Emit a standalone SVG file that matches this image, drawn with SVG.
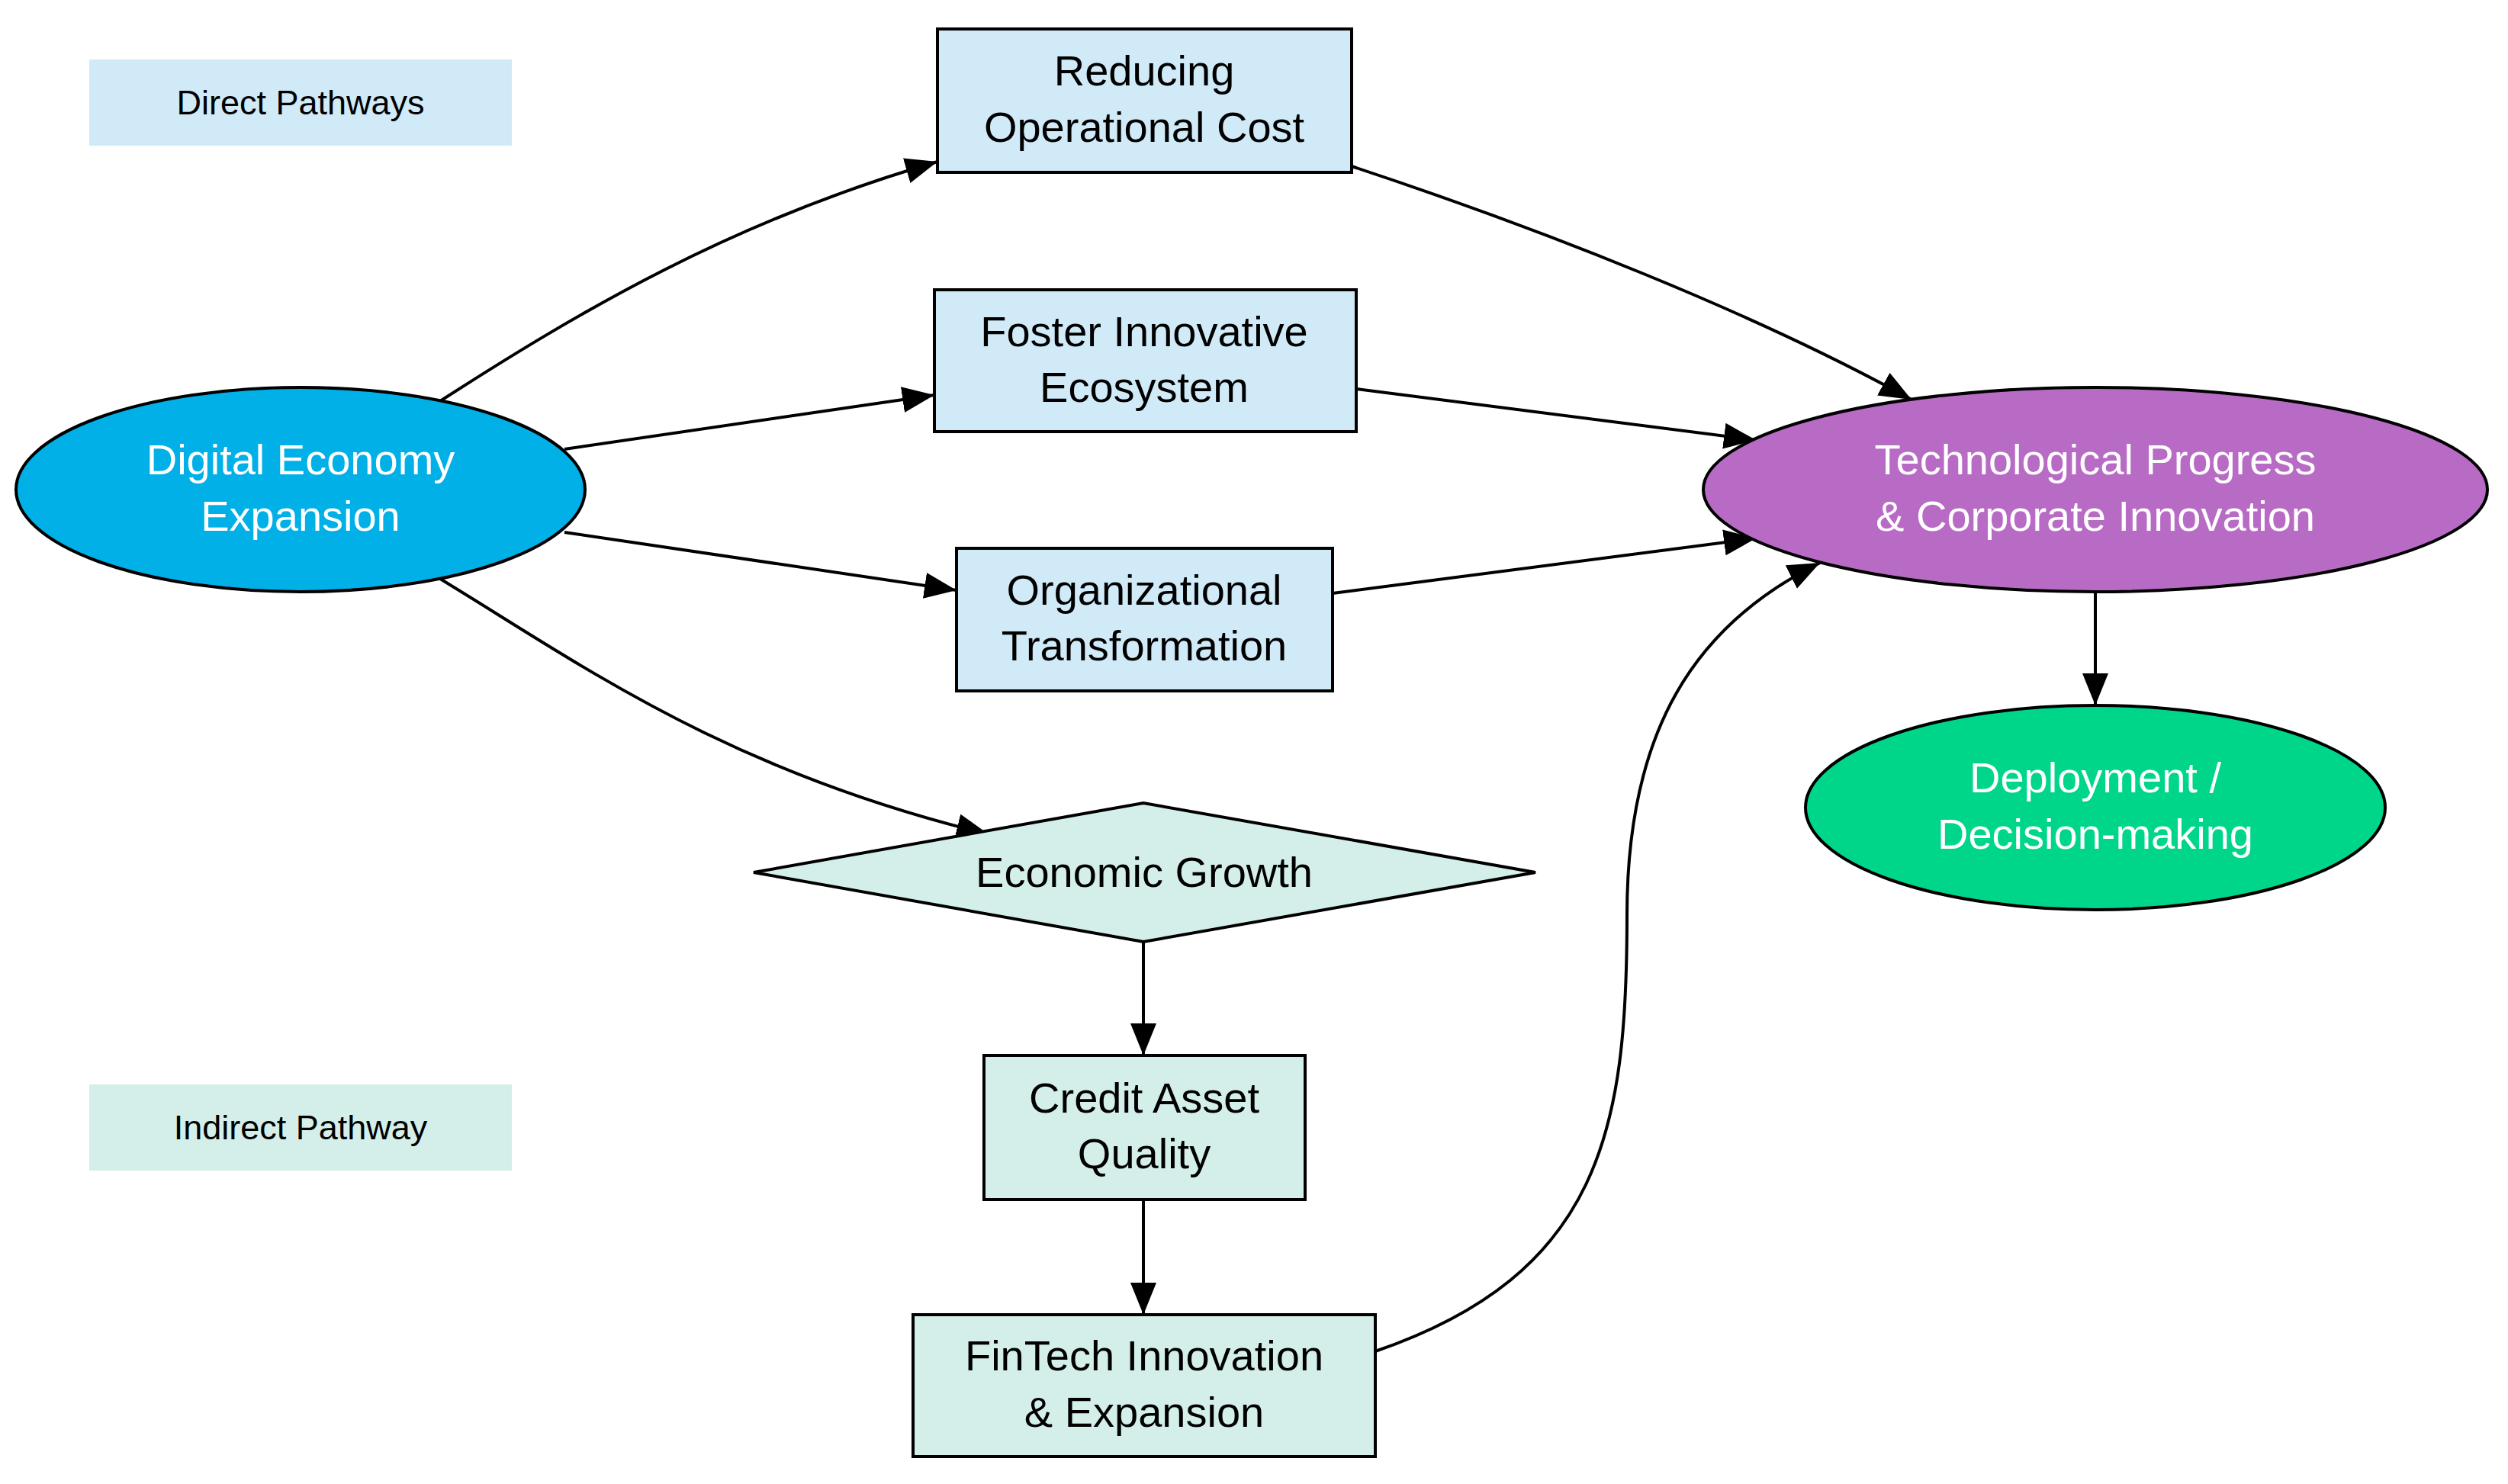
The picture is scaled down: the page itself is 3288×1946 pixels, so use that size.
<svg xmlns="http://www.w3.org/2000/svg" width="3288" height="1946" viewBox="0 0 3288 1946">
<style>
.n{stroke:#000;stroke-width:4}
.t{font-family:"Liberation Sans",Arial,sans-serif;font-size:56px;text-anchor:middle;fill:#000}
.w{fill:#fff}
.l{font-family:"Liberation Sans",Arial,sans-serif;font-size:45px;text-anchor:middle;fill:#000}
.e{fill:none;stroke:#000;stroke-width:4;marker-end:url(#a)}
.b{fill:#d0eaf8}.g{fill:#d4efea}
</style>
<defs><marker id="a" markerUnits="userSpaceOnUse" markerWidth="44" markerHeight="34" refX="42" refY="17" orient="auto"><path d="M0,0 L42,17 L0,34 Z" fill="#000"/></marker></defs>
<rect width="3288" height="1946" fill="#fff"/>
<g id="legend-direct"><rect class="b" x="117" y="78" width="554" height="113"/><text class="l" x="394" y="150">Direct Pathways</text></g>
<g id="legend-indirect"><rect class="g" x="117" y="1422" width="554" height="113"/><text class="l" x="394" y="1494">Indirect Pathway</text></g>
<g id="edges">
<path class="e" d="M577,526 C760,408 960,290 1229,212"/>
<path class="e" d="M740,589 L1225,518"/>
<path class="e" d="M740,698 L1254,774"/>
<path class="e" d="M577,759 C760,870 950,1010 1296,1094"/>
<path class="e" d="M1772,218 C2020,300 2300,410 2506,524"/>
<path class="e" d="M1778,510 L2302,577"/>
<path class="e" d="M1747,778 L2302,706"/>
<path class="e" d="M1803,1772 C2100,1670 2133,1480 2133,1200 C2133,960 2220,820 2386,738"/>
<path class="e" d="M2747,776 L2747,925"/>
<path class="e" d="M1499,1235 L1499,1384"/>
<path class="e" d="M1499,1573 L1499,1724"/>
</g>
<g id="reducing"><rect class="n b" x="1229" y="38" width="543" height="188"/><text class="t" x="1500" y="112">Reducing</text><text class="t" x="1500" y="186">Operational Cost</text></g>
<g id="foster"><rect class="n b" x="1225" y="380" width="553" height="186"/><text class="t" x="1500" y="454">Foster Innovative</text><text class="t" x="1500" y="527">Ecosystem</text></g>
<g id="org"><rect class="n b" x="1254" y="719" width="493" height="187"/><text class="t" x="1500" y="793">Organizational</text><text class="t" x="1500" y="866">Transformation</text></g>
<g id="digital"><ellipse class="n" cx="394" cy="642" rx="373" ry="134" fill="#00b0e6"/><text class="t w" x="394" y="622">Digital Economy</text><text class="t w" x="394" y="696">Expansion</text></g>
<g id="tech"><ellipse class="n" cx="2747" cy="642" rx="514" ry="134" fill="#b86bc4"/><text class="t w" x="2747" y="622">Technological Progress</text><text class="t w" x="2747" y="696">&amp; Corporate Innovation</text></g>
<g id="deploy"><ellipse class="n" cx="2747" cy="1059" rx="380" ry="134" fill="#00d68a"/><text class="t w" x="2747" y="1039">Deployment /</text><text class="t w" x="2747" y="1113">Decision-making</text></g>
<g id="growth"><polygon class="n g" points="988,1144 1499,1053 2013,1144 1499,1235"/><text class="t" x="1500" y="1163">Economic Growth</text></g>
<g id="credit"><rect class="n g" x="1290" y="1384" width="421" height="189"/><text class="t" x="1500" y="1459">Credit Asset</text><text class="t" x="1500" y="1532">Quality</text></g>
<g id="fintech"><rect class="n g" x="1197" y="1724" width="606" height="186"/><text class="t" x="1500" y="1797">FinTech Innovation</text><text class="t" x="1500" y="1871">&amp; Expansion</text></g>
</svg>
